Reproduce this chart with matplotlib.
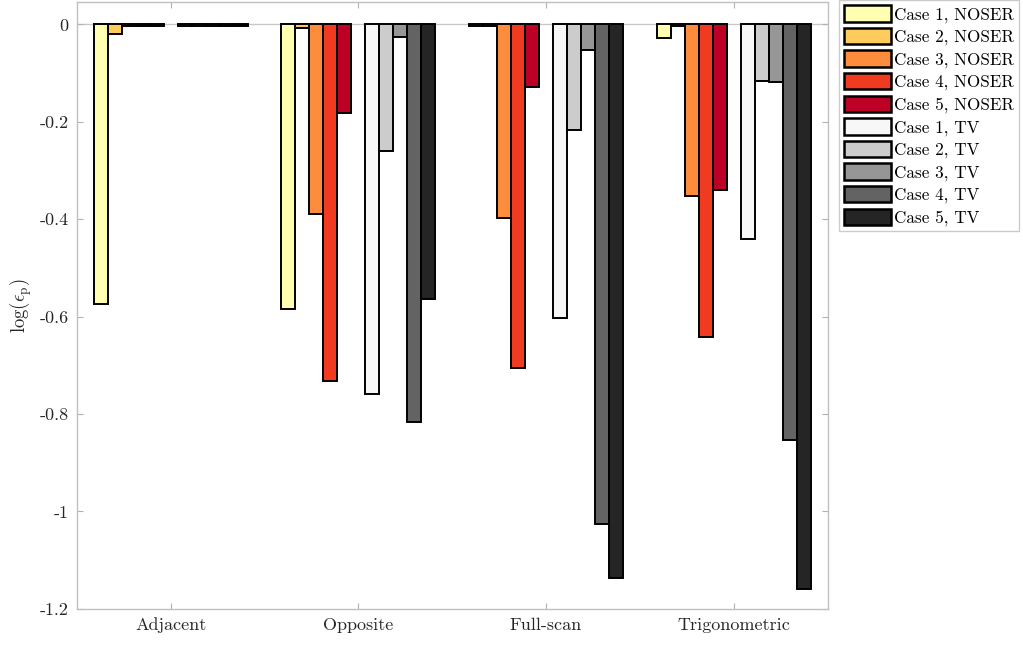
import numpy as np
import matplotlib
matplotlib.use("Agg")
import matplotlib.pyplot as plt
from matplotlib.patches import Patch

plt.rcParams['font.family'] = ['cmr10', 'DejaVu Serif']
plt.rcParams['mathtext.fontset'] = 'cm'
plt.rcParams['axes.unicode_minus'] = False

methods = ['Adjacent', 'Opposite', 'Full-scan', 'Trigonometric']
series = ['Case 1, NOSER', 'Case 2, NOSER', 'Case 3, NOSER', 'Case 4, NOSER', 'Case 5, NOSER',
          'Case 1, TV', 'Case 2, TV', 'Case 3, TV', 'Case 4, TV', 'Case 5, TV']

noser_c1 = [-0.575, -0.584, -0.003, -0.028]
noser_c2 = [-0.019, -0.008, -0.003, -0.003]
noser_c3 = [-0.003, -0.389, -0.397, -0.353]
noser_c4 = [-0.003, -0.733, -0.706, -0.641]
noser_c5 = [-0.003, -0.181, -0.128, -0.340]
tv_c1 = [-0.003, -0.758, -0.603, -0.440]
tv_c2 = [-0.003, -0.261, -0.217, -0.117]
tv_c3 = [-0.003, -0.026, -0.052, -0.119]
tv_c4 = [-0.003, -0.817, -1.025, -0.854]
tv_c5 = [-0.003, -0.563, -1.136, -1.159]

values = [noser_c1, noser_c2, noser_c3, noser_c4, noser_c5,
          tv_c1, tv_c2, tv_c3, tv_c4, tv_c5]
colors = ['#FFFFB2', '#FECC5C', '#FD8D3C', '#F03B20', '#BD0026',
          '#F7F7F7', '#CCCCCC', '#969696', '#636363', '#252525']

fig = plt.figure(figsize=(10.23, 6.45), dpi=100)
ax = fig.add_axes([0.075, 0.056, 0.734, 0.941])

x = np.arange(1, len(methods) + 1)
slot = 0.0745
# 11 slots per group, slot 6 left empty between NOSER and TV
slots = [0, 1, 2, 3, 4, 6, 7, 8, 9, 10]

ax.axhline(0, color='#c8c8c8', lw=1.0, zorder=1)
for s, vals, c in zip(slots, values, colors):
    offset = (s - 5) * slot
    ax.bar(x + offset, vals, width=slot, color=c, edgecolor='black',
           linewidth=1.4, zorder=2)

ax.set_xlim(0.5, 4.5)
ax.set_ylim(-1.2, 0.046)
ax.set_xticks(x)
ax.set_xticklabels(methods, fontsize=13, color='#262626')
yt = [0, -0.2, -0.4, -0.6, -0.8, -1, -1.2]
ax.set_yticks(yt)
ax.set_yticklabels(['0', '-0.2', '-0.4', '-0.6', '-0.8', '-1', '-1.2'],
                   fontsize=13, color='#262626')
ax.set_ylabel(r'$\log(\epsilon_\mathrm{p})$', fontsize=13.5, color='#262626')
ax.tick_params(direction='in', length=4, color='#b0b0b0', top=True, right=True, pad=6)
for sp in ax.spines.values():
    sp.set_color('#c0c0c0')
    sp.set_linewidth(1.0)

handles = [Patch(facecolor=c, edgecolor='black', linewidth=1.8) for c in colors]
leg = ax.legend(handles, series, loc='upper left', bbox_to_anchor=(1.0155, 1.003),
                fontsize=12.3, frameon=True, fancybox=False, borderaxespad=0,
                handlelength=2.75, handleheight=1.1, handletextpad=0.15,
                labelspacing=0.3, borderpad=0.3)
leg.get_frame().set_edgecolor('#c0c0c0')
leg.get_frame().set_linewidth(1.0)

fig.savefig('out.png', dpi=100)
